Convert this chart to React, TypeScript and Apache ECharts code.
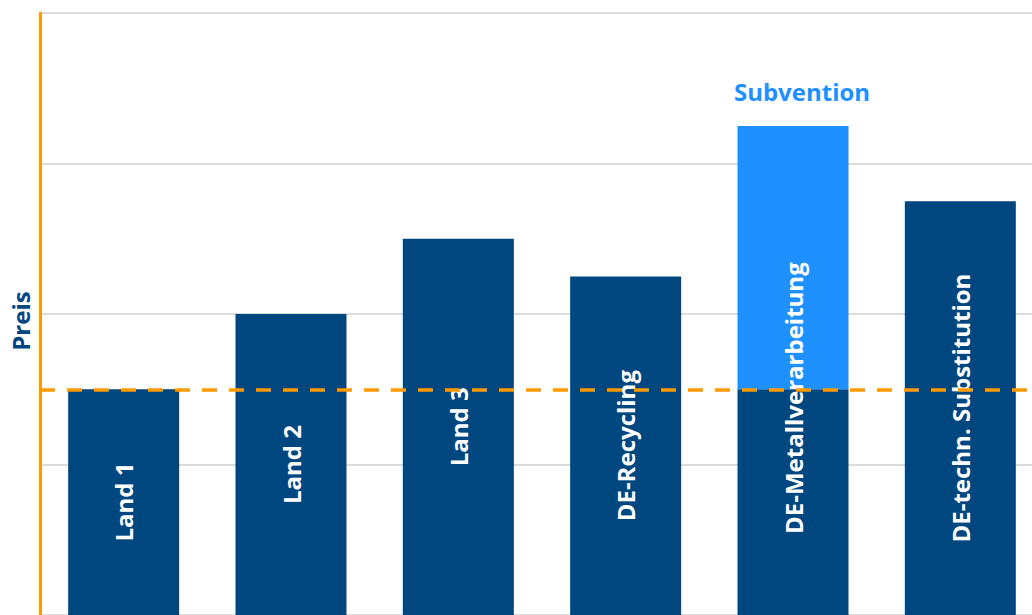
import React, { useEffect, useRef } from "react";
import * as echarts from "echarts";

const categories = ["Land 1", "Land 2", "Land 3", "DE-Recycling", "DE-Metallverarbeitung", "DE-techn. Substitution"];
const basePrice = [3, 4, 5, 4.5, 3, 5.5];
const subvention: (number | string)[] = ["-", "-", "-", "-", 3.5, "-"];
const referenceLevel = 3;
const yTicks = { min: 0, max: 8, interval: 2 };

const DARK = "#00467F";
const LIGHT = "#1E90FF";
const ORANGE = "#FF9900";
const FONT = "'Open Sans', 'Noto Sans', sans-serif";

export default function App() {
  const ref = useRef<HTMLDivElement>(null);
  useEffect(() => {
    if (!ref.current) return;
    const chart = echarts.init(ref.current, undefined, { renderer: "svg" });
    const labelData = basePrice.map((v, i) => {
      const item: any = { value: v };
      if (categories[i] === "DE-Metallverarbeitung") {
        item.label = { offset: [104, 0] };
      }
      return item;
    });
    chart.setOption({
      animation: false,
      textStyle: { fontFamily: FONT },
      grid: { left: 40, right: 0, top: 13, bottom: 0, containLabel: false },
      xAxis: {
        type: "category",
        data: categories,
        axisLine: { show: false },
        axisTick: { show: false },
        axisLabel: { show: false },
      },
      yAxis: {
        type: "value",
        min: yTicks.min,
        max: yTicks.max,
        interval: yTicks.interval,
        axisLine: { show: true, lineStyle: { color: ORANGE, width: 3 } },
        axisTick: { show: false },
        axisLabel: { show: false },
        splitLine: { lineStyle: { color: "#DCDCDC", width: 2 } },
      },
      graphic: [
        {
          type: "text",
          x: 20,
          y: 321,
          rotation: Math.PI / 2,
          style: {
            text: "Preis",
            fill: DARK,
            font: `bold 24px ${FONT}`,
            align: "center",
            verticalAlign: "middle",
          },
        },
      ],
      series: [
        {
          name: "Preis",
          type: "bar",
          stack: "total",
          barWidth: 111,
          data: basePrice,
          itemStyle: { color: DARK },
          z: 1,
        },
        {
          name: "Subvention",
          type: "bar",
          stack: "total",
          barWidth: 111,
          data: subvention,
          itemStyle: { color: LIGHT },
          z: 1,
          label: {
            show: true,
            position: "top",
            distance: 22,
            offset: [9, 0],
            formatter: "Subvention",
            color: LIGHT,
            fontFamily: FONT,
            fontWeight: "bold",
            fontSize: 24,
          },
        },
        {
          name: "Referenz",
          type: "line",
          data: [],
          z: 2,
          markLine: {
            silent: true,
            symbol: "none",
            label: { show: false },
            lineStyle: { color: ORANGE, type: [15, 12], width: 3.5 },
            data: [{ yAxis: referenceLevel }],
          },
        },
        {
          name: "Beschriftung",
          type: "bar",
          barWidth: 111,
          barGap: "-100%",
          data: labelData,
          itemStyle: { color: "rgba(0,0,0,0)" },
          z: 3,
          silent: true,
          label: {
            show: true,
            position: "inside",
            rotate: 90,
            formatter: (p: any) => p.name,
            color: "#FFFFFF",
            fontFamily: FONT,
            fontWeight: "bold",
            fontSize: 24,
          },
        },
      ],
    });
    return () => chart.dispose();
  }, []);
  return (
    <div style={{ position: "fixed", left: 0, top: 0, width: 1032, height: 615, overflow: "hidden", background: "#fff" }}>
      <div ref={ref} style={{ width: 1044, height: 615 }} />
    </div>
  );
}
